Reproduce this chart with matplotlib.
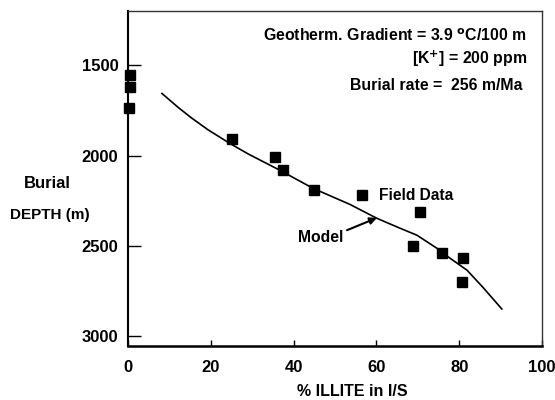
import numpy as np
import matplotlib.pyplot as plt

plt.rcParams['font.family'] = ['Liberation Sans', 'DejaVu Sans']

# field measurements: % illite in I/S vs burial depth (m)
field_illite = [0.6, 0.6, 0.3, 25.1, 35.5, 37.4, 44.9, 56.5, 70.5, 68.8, 75.8, 80.9, 80.7]
field_depth = [1555, 1622, 1738, 1910, 2009, 2081, 2192, 2220, 2314, 2502, 2541, 2568, 2701]

# kinetic model curve
model_illite = [8.2, 12.1, 15.3, 19.3, 24.6, 29.0, 36.7, 44.7, 53.6, 60.1, 65.7,
                69.8, 74.6, 76.1, 81.9, 85.7, 90.3]
model_depth = [1655, 1732, 1790, 1856, 1932, 1990, 2081, 2181, 2270, 2347, 2402,
               2441, 2513, 2541, 2635, 2729, 2850]

xticks = [0, 20, 40, 60, 80, 100]
yticks = [1500, 2000, 2500, 3000]

fig = plt.figure(figsize=(5.55, 4.0), dpi=100)
ax = fig.add_axes([0.2306, 0.135, 0.746, 0.8375])

ax.plot(model_illite, model_depth, color='black', lw=1.2)
ax.plot(field_illite, field_depth, 's', color='black', ms=6.6, clip_on=False)

ax.set_xlim(0, 100)
ax.set_ylim(3055, 1198)
ax.set_xticks(xticks)
ax.set_yticks(yticks)
ax.tick_params(direction='in', width=1.0, labelsize=12)
ax.tick_params(axis='x', length=4, pad=10)
ax.tick_params(axis='y', length=9, pad=7)
for lab in ax.get_xticklabels() + ax.get_yticklabels():
    lab.set_fontweight('bold')

ax.spines['left'].set_linewidth(1.5)
ax.spines['bottom'].set_linewidth(1.8)
for side in ['top', 'right']:
    ax.spines[side].set_linewidth(1.0)
    ax.spines[side].set_color('#333333')

fig.text(0.634, 0.02, '% ILLITE in I/S', ha='center', va='center',
         fontsize=11.5, fontweight='bold')
fig.text(0.086, 0.542, 'Burial', ha='center', va='center', fontsize=12, fontweight='bold')
fig.text(0.09, 0.462, 'DEPTH (m)', ha='center', va='center', fontsize=11, fontweight='bold')

ax.text(0.964, 0.925, 'Geotherm. Gradient = 3.9 $^{\\mathbf{o}}$C/100 m', transform=ax.transAxes,
        ha='right', va='center', fontsize=11.4, fontweight='bold')
ax.text(0.966, 0.857, '[K$^{\\mathbf{+}}$] = 200 ppm', transform=ax.transAxes,
        ha='right', va='center', fontsize=11.4, fontweight='bold')
ax.text(0.954, 0.779, 'Burial rate =  256 m/Ma', transform=ax.transAxes,
        ha='right', va='center', fontsize=11.4, fontweight='bold')

ax.text(60.6, 2223, 'Field Data', ha='left', va='center', fontsize=11.2, fontweight='bold')
ax.text(41.1, 2452, 'Model', ha='left', va='center', fontsize=11.3, fontweight='bold')
ax.annotate('', xy=(60.1, 2345), xytext=(52.9, 2413),
            arrowprops=dict(arrowstyle='-|>', color='black', lw=1.5, mutation_scale=10,
                            shrinkA=0, shrinkB=0))

fig.savefig('out.png', dpi=100)
